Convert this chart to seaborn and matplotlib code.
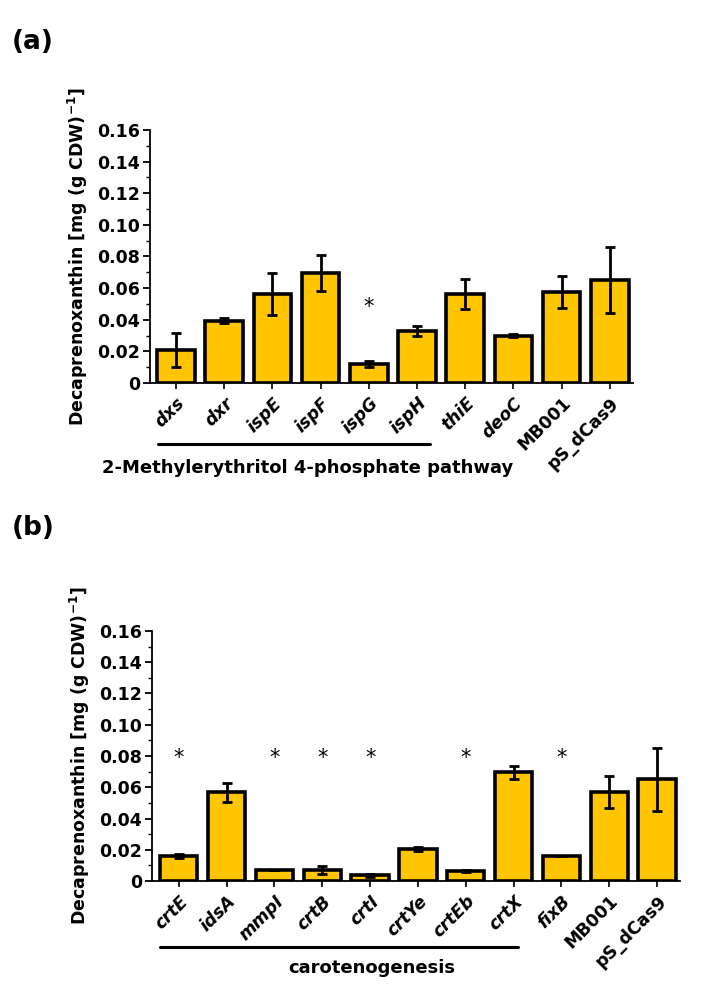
import numpy as np
import pandas as pd
import matplotlib
matplotlib.use("Agg")
import matplotlib.pyplot as plt
from matplotlib.ticker import MultipleLocator, FuncFormatter
import seaborn as sns

# Panel (a): MEP pathway knockdowns
strains_a = ["dxs", "dxr", "ispE", "ispF", "ispG", "ispH", "thiE", "deoC", "MB001", "pS_dCas9"]
mean_a = [0.021, 0.0395, 0.0565, 0.0698, 0.012, 0.033, 0.0563, 0.030, 0.0576, 0.065]
err_a = [0.0107, 0.0015, 0.0133, 0.0114, 0.0016, 0.003, 0.0096, 0.0007, 0.0103, 0.021]
star_a = ["ispG"]

# Panel (b): carotenogenesis knockdowns
strains_b = ["crtE", "idsA", "mmpI", "crtB", "crtI", "crtYe", "crtEb", "crtX", "fixB", "MB001", "pS_dCas9"]
mean_b = [0.016, 0.0568, 0.007, 0.007, 0.0036, 0.0207, 0.0062, 0.0696, 0.0162, 0.0571, 0.065]
err_b = [0.0012, 0.006, 0.0, 0.0027, 0.001, 0.0012, 0.0007, 0.0042, 0.0, 0.0102, 0.020]
star_b = ["crtE", "mmpI", "crtB", "crtI", "crtEb", "fixB"]

controls = ["MB001", "pS_dCas9"]
bar_color = "#FFC600"

sns.set_style("ticks")
plt.rcParams["font.family"] = ["DejaVu Sans"]
plt.rcParams["mathtext.default"] = "bf"
for key in ["text.color", "axes.labelcolor", "xtick.color", "ytick.color", "axes.edgecolor"]:
    plt.rcParams[key] = "black"

fig = plt.figure(figsize=(7.06, 10.07), dpi=100)


def draw_panel(ax, strains, means, errs, stars, xlim, group, group_label, star_y):
    df = pd.DataFrame({"strain": strains, "value": means})
    sns.barplot(data=df, x="strain", y="value", color=bar_color, width=0.78,
                edgecolor="black", linewidth=2.6, ax=ax, saturation=1)
    ax.errorbar(np.arange(len(strains)), means, yerr=errs, fmt="none",
                ecolor="black", elinewidth=2.0, capsize=3.5, capthick=2.0, zorder=5)
    for i, s in enumerate(strains):
        if s in stars:
            ax.text(i, star_y, "*", ha="center", va="center", fontsize=15)

    ax.set_ylim(0, 0.16)
    ax.set_xlim(*xlim)
    ax.yaxis.set_major_locator(MultipleLocator(0.02))
    ax.yaxis.set_minor_locator(MultipleLocator(0.01))
    ax.yaxis.set_major_formatter(FuncFormatter(lambda v, p: "0" if v == 0 else f"{v:.2f}"))
    sns.despine(ax=ax)
    for sp in ["left", "bottom"]:
        ax.spines[sp].set_linewidth(1.3)
    ax.tick_params(axis="y", which="major", length=5, width=1.3, labelsize=12.5, pad=2)
    ax.tick_params(axis="y", which="minor", length=3, width=1.0)
    ax.tick_params(axis="x", length=4, width=1.2, labelsize=12.5, pad=4)
    for lab in ax.get_yticklabels():
        lab.set_fontweight("bold")

    ax.set_xticks(range(len(strains)))
    ax.set_xticklabels(strains, rotation=45, ha="right", rotation_mode="anchor")
    for lab in ax.get_xticklabels():
        lab.set_fontweight("bold")
        if lab.get_text() not in controls:
            lab.set_style("italic")

    ax.set_xlabel("")
    ax.set_ylabel("Decaprenoxanthin [mg (g CDW)$^{-1}$]", fontsize=12.5,
                  fontweight="bold", labelpad=5)

    # group bracket under the x labels
    trans = ax.get_xaxis_transform()
    x0, x1, yline, xtext, ytext = group
    ax.plot([x0, x1], [yline, yline], color="black", lw=2.2, transform=trans, clip_on=False)
    ax.text(xtext, ytext, group_label, transform=trans, ha="center", va="center",
            fontsize=13, fontweight="bold")


ax_a = fig.add_axes([0.2125, 0.6197, 0.684, 0.2512])
draw_panel(ax_a, strains_a, mean_a, err_a, star_a, (-0.54, 9.48),
           (-0.37, 5.27, -0.241, 2.73, -0.336), "2-Methylerythritol 4-phosphate pathway", 0.048)

ax_b = fig.add_axes([0.2153, 0.1251, 0.748, 0.2483])
draw_panel(ax_b, strains_b, mean_b, err_b, star_b, (-0.56, 10.48),
           (-0.39, 7.09, -0.264, 4.03, -0.348), "carotenogenesis", 0.0785)

fig.text(0.017, 0.958, "(a)", fontsize=19, fontweight="bold", va="center")
fig.text(0.017, 0.476, "(b)", fontsize=19, fontweight="bold", va="center")

fig.savefig("out.png", dpi=100, facecolor="white")
